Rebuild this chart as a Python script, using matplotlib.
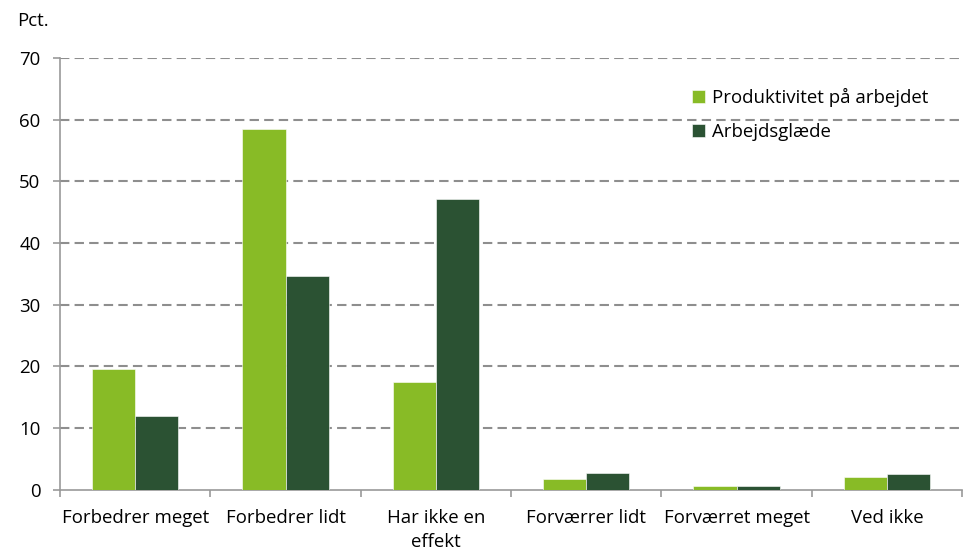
import numpy as np
import matplotlib

matplotlib.use("Agg")
import matplotlib.pyplot as plt

plt.rcParams["font.family"] = ["Open Sans", "DejaVu Sans"]

CATEGORIES = [
    "Forbedrer meget",
    "Forbedrer lidt",
    "Har ikke en\neffekt",
    "Forværrer lidt",
    "Forværret meget",
    "Ved ikke",
]
PRODUKTIVITET = [19.6, 58.4, 17.4, 1.7, 0.7, 2.0]
ARBEJDSGLAEDE = [12.0, 34.7, 47.1, 2.7, 0.6, 2.6]
SERIES_LABELS = ["Produktivitet på arbejdet", "Arbejdsglæde"]
Y_TICKS = [0, 10, 20, 30, 40, 50, 60, 70]

LIGHT_GREEN = "#88BB26"
DARK_GREEN = "#2B5233"
GRID_GREY = "#8E8E8E"
AXIS_GREY = "#999999"
FS = 13.4

fig = plt.figure(figsize=(9.67, 5.51), dpi=100)
ax = fig.add_axes([0.062, 0.111, 0.933, 0.784])

x = np.arange(len(CATEGORIES))
width = 0.287
ax.bar(x - width / 2, PRODUKTIVITET, width, color=LIGHT_GREEN, label=SERIES_LABELS[0],
       edgecolor="white", linewidth=0.4, zorder=3)
ax.bar(x + width / 2, ARBEJDSGLAEDE, width, color=DARK_GREEN, label=SERIES_LABELS[1],
       edgecolor="white", linewidth=0.4, zorder=3)

ax.set_xlim(-0.5, len(CATEGORIES) - 0.5)
ax.set_ylim(0, 70)
ax.set_yticks(Y_TICKS)
ax.set_yticklabels([str(v) for v in Y_TICKS], fontsize=FS)

ax.set_xticks(x)
ax.set_xticklabels(CATEGORIES, fontsize=FS, linespacing=1.4)
ax.set_xticks(np.arange(len(CATEGORIES) + 1) - 0.5, minor=True)
ax.tick_params(axis="x", which="major", length=0, pad=14)
ax.tick_params(axis="x", which="minor", length=5, color=AXIS_GREY, width=1.2, direction="out")
ax.tick_params(axis="y", length=5, color=AXIS_GREY, width=1.2, direction="out", pad=9)

for y in Y_TICKS[1:]:
    ax.axhline(y, color=GRID_GREY, linestyle=(0, (4.5, 2.5)), linewidth=1.5, zorder=1)

for side in ["top", "right"]:
    ax.spines[side].set_visible(False)
for side in ["left", "bottom"]:
    ax.spines[side].set_color(AXIS_GREY)
    ax.spines[side].set_linewidth(1.2)

ax.text(-0.047, 1.085, "Pct.", transform=ax.transAxes, fontsize=FS, ha="left", va="center")

ax.legend(loc="upper right", bbox_to_anchor=(0.981, 0.97), frameon=False, fontsize=FS,
          handlelength=0.7, handleheight=0.7, handletextpad=0.35, labelspacing=0.9)

fig.savefig("out.png", dpi=100)
